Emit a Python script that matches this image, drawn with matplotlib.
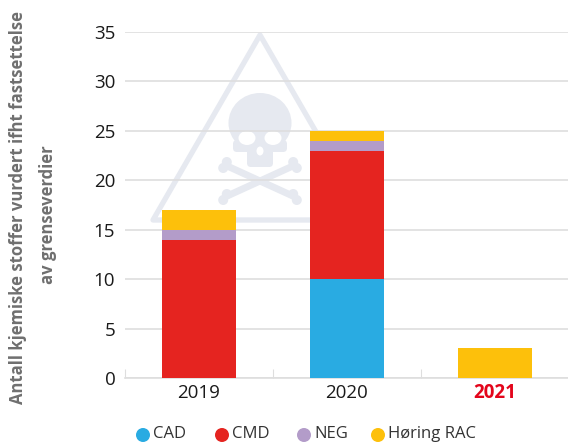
import matplotlib
matplotlib.use("Agg")
import matplotlib.pyplot as plt
from matplotlib.patches import Circle, Ellipse, Polygon, FancyBboxPatch
import numpy as np

plt.rcParams['font.family'] = ['Open Sans', 'DejaVu Sans']

years = ["2019", "2020", "2021"]
cad = [0, 10, 0]
cmd = [14, 13, 0]
neg = [1, 1, 0]
rac = [2, 1, 3]
series_names = ["CAD", "CMD", "NEG", "Høring RAC"]
series_colors = ["#29ABE2", "#E52420", "#B39CC9", "#FDC00B"]
yticks = [0, 5, 10, 15, 20, 25, 30, 35]

W, H = 568, 443
GREY = "#DEDEDE"
MARK = "#E6E9F0"

fig = plt.figure(figsize=(W / 100, H / 100), dpi=100)

# pixel canvas behind the chart, for the watermark, titles and legend
bg = fig.add_axes([0, 0, 1, 1], zorder=0)
bg.set_xlim(0, W)
bg.set_ylim(H, 0)
bg.axis("off")

bg.add_patch(Polygon([(260, 35), (153, 220), (367, 220)], closed=True, fill=False,
                     edgecolor=MARK, linewidth=3.8, joinstyle="round"))
bg.add_patch(Ellipse((260, 123), 63, 60, color=MARK, lw=0))
bg.add_patch(FancyBboxPatch((233, 140), 54, 12, boxstyle="round,pad=0,rounding_size=4", color=MARK, lw=0))
bg.add_patch(FancyBboxPatch((247, 145), 26, 22, boxstyle="round,pad=0,rounding_size=4", color=MARK, lw=0))
for cx in (247, 273):
    bg.add_patch(Ellipse((cx, 138), 17, 14, color="white", lw=0))
bg.add_patch(Ellipse((260, 151), 7, 9, color="white", lw=0))
for (x0, y0, x1, y1) in [(225, 165, 295, 197), (225, 197, 295, 165)]:
    bg.plot([x0, x1], [y0, y1], color=MARK, lw=5, solid_capstyle="round")
    for ex, ey in [(x0, y0), (x1, y1)]:
        for dy, dx in [(-3, 3 if ex < 260 else -3), (3, -3 if ex < 260 else 3)]:
            bg.add_patch(Circle((ex + dx * 0.6, ey + dy), 5, color=MARK, lw=0))

ax = fig.add_axes([125 / W, 1 - 378 / H, 444 / W, (378 - 32) / H], zorder=1)
ax.patch.set_alpha(0)

x = np.arange(len(years))
bottom = np.zeros(len(years))
for vals, col in zip([cad, cmd, neg, rac], series_colors):
    ax.bar(x, vals, width=0.5, bottom=bottom, color=col, zorder=3)
    bottom = bottom + np.array(vals)

ax.set_xlim(-0.5, 2.5)
ax.set_ylim(0, 35)
ax.set_yticks(yticks)
ax.tick_params(axis="y", length=0, pad=7, labelsize=13.5, labelcolor="#1A1A1A")
ax.yaxis.grid(True, color=GREY, linewidth=1.2, zorder=1)
ax.set_axisbelow(True)

ax.set_xticks([-0.5, 0.5, 1.5, 2.5])
ax.set_xticklabels([])
ax.tick_params(axis="x", direction="in", length=6.5, width=0.8, color=GREY)
for i, yr in enumerate(years):
    bg.text(199 + 148 * i, 393, yr, ha="center", va="center", fontsize=13.5,
            color="#E3051B" if yr == "2021" else "#1A1A1A",
            fontweight="bold" if yr == "2021" else "normal")

for s in ["top", "right", "left"]:
    ax.spines[s].set_visible(False)
ax.spines["bottom"].set_color(GREY)
ax.spines["bottom"].set_linewidth(1.2)

bg.text(18, 208, "Antall kjemiske stoffer vurdert ifht fastsettelse", rotation=90,
        ha="center", va="center", fontsize=12, fontweight="bold", color="#6F6F6F")
bg.text(48, 215, "av grenseverdier", rotation=90,
        ha="center", va="center", fontsize=12, fontweight="bold", color="#6F6F6F")

legend_x = [143, 222, 304, 378]
for lx, name, col in zip(legend_x, series_names, series_colors):
    bg.add_patch(Circle((lx, 435), 7, color=col, lw=0))
    bg.text(lx + 10, 437.5, name, ha="left", va="baseline", fontsize=12, color="#333333")

fig.savefig("out.png", dpi=100)
